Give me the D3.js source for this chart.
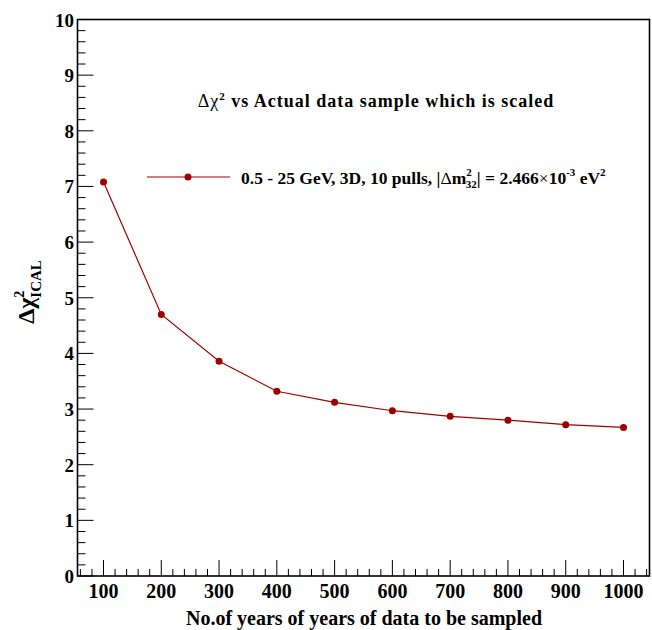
<!DOCTYPE html>
<html>
<head>
<meta charset="utf-8">
<script src="https://cdn.jsdelivr.net/npm/d3@7"></script>
<style>
  body { margin: 0; background: #fff; }
  text { font-family: "Liberation Serif", "Times New Roman", serif; font-weight: bold; }
</style>
</head>
<body>
<svg id="chart" width="652" height="630"></svg>
<script>
// data
var years = [100, 200, 300, 400, 500, 600, 700, 800, 900, 1000];
var chi2 = [7.08, 4.70, 3.86, 3.32, 3.12, 2.97, 2.87, 2.80, 2.72, 2.67];
var xTicks = [100, 200, 300, 400, 500, 600, 700, 800, 900, 1000];
var yTicks = [0, 1, 2, 3, 4, 5, 6, 7, 8, 9, 10];

var frame = { left: 77.5, top: 19.5, right: 649.5, bottom: 576 };
var red = "#9e0000";

var svg = d3.select("#chart");

var x = d3.scaleLinear().domain([55, 1045]).range([frame.left, frame.right]);
var y = d3.scaleLinear().domain([0, 10]).range([frame.bottom, frame.top]);

// minor ticks every 20 on x, 0.2 on y
var xMinor = d3.range(60, 1045, 20).filter(function (d) { return d % 100 !== 0; });
var yMinor = d3.range(0, 10.001, 0.2).filter(function (d) { return Math.abs(d - Math.round(d)) > 1e-6; });

var ticks = svg.append("g").attr("stroke", "#000").attr("stroke-width", 1);
ticks.selectAll("line.xmaj").data(xTicks).enter().append("line")
    .attr("x1", function (d) { return x(d); }).attr("x2", function (d) { return x(d); })
    .attr("y1", frame.bottom).attr("y2", frame.bottom - 16);
ticks.selectAll("line.xmin").data(xMinor).enter().append("line")
    .attr("x1", function (d) { return x(d); }).attr("x2", function (d) { return x(d); })
    .attr("y1", frame.bottom).attr("y2", frame.bottom - 7);
ticks.selectAll("line.ymaj").data(yTicks).enter().append("line")
    .attr("x1", frame.left).attr("x2", frame.left + 16)
    .attr("y1", function (d) { return y(d); }).attr("y2", function (d) { return y(d); });
ticks.selectAll("line.ymin").data(yMinor).enter().append("line")
    .attr("x1", frame.left).attr("x2", frame.left + 8)
    .attr("y1", function (d) { return y(d); }).attr("y2", function (d) { return y(d); });

svg.append("rect")
    .attr("x", frame.left).attr("y", frame.top)
    .attr("width", frame.right - frame.left).attr("height", frame.bottom - frame.top)
    .attr("fill", "none").attr("stroke", "#000").attr("stroke-width", 1.6);

// tick labels
svg.append("g").selectAll("text").data(xTicks).enter().append("text")
    .attr("x", function (d) { return x(d); })
    .attr("y", 598)
    .attr("text-anchor", "middle")
    .attr("font-size", 20)
    .text(function (d) { return d; });

svg.append("g").selectAll("text").data(yTicks).enter().append("text")
    .attr("x", 74)
    .attr("y", function (d) { return y(d) + 7; })
    .attr("text-anchor", "end")
    .attr("font-size", 19)
    .text(function (d) { return d; });

// axis titles
svg.append("text")
    .attr("x", 364).attr("y", 625)
    .attr("text-anchor", "middle")
    .attr("font-size", 20)
    .text("No.of years of years of data to be sampled");

var yl = svg.append("text")
    .attr("transform", "translate(34,292) rotate(-90)")
    .attr("text-anchor", "middle")
    .attr("font-size", 24)
    .attr("font-weight", "normal");
yl.append("tspan").text("\u0394\u03c7");
yl.append("tspan").attr("font-size", 14).attr("dy", -10).text("2");
yl.append("tspan").attr("font-size", 15).attr("font-weight", "bold").attr("dx", -7).attr("dy", 17).text("ICAL");

// title
var t = svg.append("text")
    .attr("x", 376).attr("y", 107)
    .attr("text-anchor", "middle")
    .attr("font-size", 18)
    .attr("letter-spacing", 1.0);
t.append("tspan").attr("font-weight", "normal").text("\u0394\u03c7");
t.append("tspan").attr("font-size", 11).attr("dy", -7).text("2");
t.append("tspan").attr("dy", 7).text(" vs Actual data sample which is scaled");

// line + markers
var line = d3.line()
    .x(function (d, i) { return x(years[i]); })
    .y(function (d) { return y(d); });

svg.append("path")
    .datum(chi2)
    .attr("d", line)
    .attr("fill", "none")
    .attr("stroke", red)
    .attr("stroke-width", 1.2);

svg.append("g").selectAll("circle").data(chi2).enter().append("circle")
    .attr("cx", function (d, i) { return x(years[i]); })
    .attr("cy", function (d) { return y(d); })
    .attr("r", 3.5)
    .attr("fill", red);

// legend
var lg = svg.append("g");
lg.append("line")
    .attr("x1", 147).attr("x2", 230).attr("y1", 177).attr("y2", 177)
    .attr("stroke", red).attr("stroke-width", 1.2);
lg.append("circle").attr("cx", 188).attr("cy", 177).attr("r", 3.5).attr("fill", red);

var lt = lg.append("text").attr("x", 241).attr("y", 184).attr("font-size", 17.5);
lt.append("tspan").text("0.5 - 25 GeV, 3D, 10 pulls, |");
lt.append("tspan").attr("font-weight", "normal").text("\u0394");
lt.append("tspan").text("m");
lt.append("tspan").attr("font-size", 11).attr("dy", -8).text("2");
lt.append("tspan").attr("font-size", 11).attr("dx", -6).attr("dy", 12).text("32");
lt.append("tspan").attr("dy", -4).text("| = 2.466");
lt.append("tspan").attr("font-weight", "normal").text("\u00d7");
lt.append("tspan").text("10");
lt.append("tspan").attr("font-size", 11).attr("dy", -8).text("-3");
lt.append("tspan").attr("dy", 8).text(" eV");
lt.append("tspan").attr("font-size", 11).attr("dy", -8).text("2");
</script>
</body>
</html>
